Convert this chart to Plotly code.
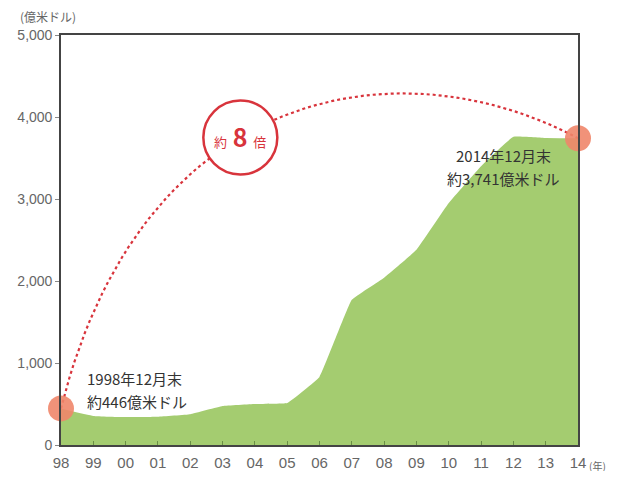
import plotly.graph_objects as go

years = list(range(1998, 2015))
tick_labels = ["98", "99", "00", "01", "02", "03", "04", "05", "06", "07",
               "08", "09", "10", "11", "12", "13", "14"]
values = [446, 355, 340, 345, 375, 475, 500, 512, 830, 1770,
          2040, 2380, 2950, 3400, 3760, 3745, 3741]
y_ticks = [0, 1000, 2000, 3000, 4000, 5000]
y_tick_labels = ["0", "1,000", "2,000", "3,000", "4,000", "5,000"]

# dotted arc: cubic Bezier from first to last value
arc_ctrl_x = [1998, 2000.5, 2008.5, 2014]
arc_ctrl_y = [values[0], 4400, 4900, values[-1]]
arc_x, arc_y = [], []
n = 60
for i in range(n + 1):
    t = i / n
    c = [(1 - t) ** 3, 3 * t * (1 - t) ** 2, 3 * t ** 2 * (1 - t), t ** 3]
    arc_x.append(sum(ci * p for ci, p in zip(c, arc_ctrl_x)))
    arc_y.append(sum(ci * p for ci, p in zip(c, arc_ctrl_y)))

badge_x, badge_y = 2003.55, 3750

GREEN = "#a4cc70"
RED = "#d8343c"
ORANGE = "#f0866a"
TXT = "#333333"
AX = "#666666"
CJK = "Noto Sans CJK JP"
NARROW = "Liberation Sans Narrow, Liberation Sans, sans-serif"

fig = go.Figure()
fig.add_trace(go.Scatter(
    x=years, y=values, mode="lines", fill="tozeroy",
    line=dict(color=GREEN, width=0, shape="spline", smoothing=0.25),
    fillcolor=GREEN, hoverinfo="skip", showlegend=False))
fig.add_trace(go.Scatter(
    x=arc_x, y=arc_y, mode="lines",
    line=dict(color=RED, width=2.2, dash="dot"),
    hoverinfo="skip", showlegend=False))
fig.add_trace(go.Scatter(
    x=[years[0], years[-1]], y=[values[0], values[-1]], mode="markers",
    marker=dict(size=26, color=ORANGE, opacity=0.9, line=dict(width=0)),
    hoverinfo="skip", showlegend=False, cliponaxis=False))
fig.add_trace(go.Scatter(
    x=[badge_x], y=[badge_y], mode="markers",
    marker=dict(size=74, color="white", line=dict(color=RED, width=2.5)),
    hoverinfo="skip", showlegend=False, cliponaxis=False))

fig.add_annotation(x=badge_x, y=badge_y, xref="x", yref="y", showarrow=False,
                   text="<span style='font-size:13px'>約</span>"
                        "<span style='font-size:25px'><b> 8 </b></span>"
                        "<span style='font-size:13px'>倍</span>",
                   font=dict(family=CJK, color=RED), yshift=2)

def label(text, x, y, anchor):
    fig.add_annotation(x=x, y=y, xref="paper", yref="paper", showarrow=False,
                       xanchor=anchor, yanchor="middle", text=text,
                       font=dict(family=CJK, size=15, color=TXT))

label("1998年12月末", 0.046, 0.163, "left")
label("約446億米ドル", 0.046, 0.105, "left")
label("2014年12月末", 0.855, 0.707, "center")
label("約3,741億米ドル", 0.855, 0.651, "center")

fig.add_annotation(x=-0.083, y=1.02, xref="paper", yref="paper", showarrow=False,
                   xanchor="left", yanchor="bottom",
                   text="(億米ドル)", font=dict(family=CJK, size=12, color=AX))
fig.add_annotation(x=1.017, y=-0.028, xref="paper", yref="paper", showarrow=False,
                   xanchor="left", yanchor="top",
                   text="(年)", font=dict(family=CJK, size=10, color=AX))

fig.update_xaxes(range=[1998, 2014], tickvals=years, ticktext=tick_labels,
                 showgrid=False, zeroline=False, showline=True, mirror=True,
                 linecolor="#444444", linewidth=1.6, ticks="inside", ticklen=4,
                 tickcolor="#6a8f45", ticklabelstandoff=3, automargin=False,
                 tickfont=dict(family=NARROW, size=15, color=AX))
fig.update_yaxes(range=[0, 5000], tickvals=y_ticks, ticktext=y_tick_labels,
                 showgrid=False, zeroline=False, showline=True, mirror=True,
                 linecolor="#444444", linewidth=1.6, ticks="outside", ticklen=4,
                 tickcolor="#888888", automargin=False,
                 tickfont=dict(family=NARROW, size=14, color=AX))
# page body adds an 8px offset; size the figure so the page does not overflow
fig.update_layout(width=617, height=463, margin=dict(l=53, r=47, t=27, b=26),
                  plot_bgcolor="white", paper_bgcolor="white")
fig.write_html("out.html")
